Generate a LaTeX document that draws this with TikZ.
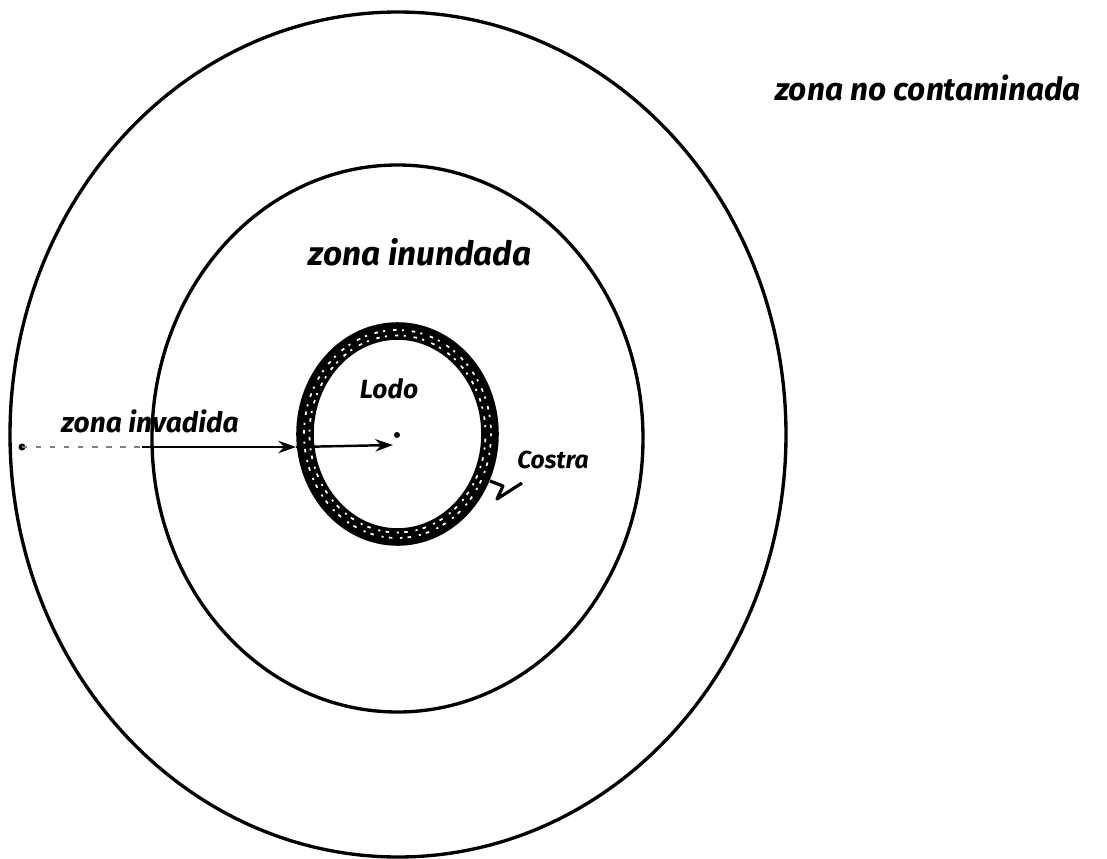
\documentclass[tikz,border=0pt]{standalone}
\usepackage{fontspec}
\newfontfamily\hand{Fira Sans}
\usetikzlibrary{positioning,arrows.meta,calc}

\begin{document}
\begin{tikzpicture}[x=0.02cm, y=-0.02cm,
      zona/.style={draw=black, line width=1.9pt},
      costra/.style={draw=black, line width=10pt},
      grano/.style={draw=white, line width=1pt, dash pattern=on 1.2pt off 4.5pt on 2pt off 3pt},
      lbl/.style={inner sep=0pt, font=\hand\bfseries\itshape\fontsize{#1}{#1}\selectfont},
      lbl/.default=18,
      flecha/.style={-{Stealth[length=10pt, width=7pt]}, line width=1.4pt},
      rastro/.style={line width=0.8pt, dash pattern=on 3pt off 5pt, gray}]
      \useasboundingbox (0,0) rectangle (1107,859);
      % zonas
      \draw[zona] (398,434.5) ellipse [x radius=388, y radius=422.5];
      \draw[zona] (397.5,438.5) ellipse [x radius=245.5, y radius=273.5];
      % costra alrededor del lodo
      \draw[costra] (397.5,434) ellipse [x radius=92.5, y radius=103];
      \draw[grano] (397.5,434) ellipse [x radius=93.5, y radius=104];
      \draw[grano, dash phase=3pt] (397.5,434) ellipse [x radius=88, y radius=98.5];
      % textos
      \node[lbl=18] (nocont) at (928,88) {zona no contaminada};
      \node[lbl=19] (inund) at (420,252) {zona inundada};
      \node[lbl=15] (lodo) at (389,389) {Lodo};
      \node[lbl=16] (invad) at (150,421) {zona invadida};
      \node[lbl=14] (costra) at (553,460) {Costra};
      % radio de invasion
      \coordinate (borde) at (22,447);
      \coordinate (corte) at (142,447);
      \coordinate (anillo) at (296,447);
      \coordinate (punta) at (393,445);
      \coordinate (centro) at (397,435);
      \fill (borde) circle [radius=3.5];
      \draw[rastro] (borde) -- (corte);
      \draw[flecha] (corte) -- (anillo);
      \draw[flecha] (anillo) -- (punta);
      \fill (centro) circle [radius=3];
      % senal de la costra
      \draw[line width=1.8pt, line join=round] (490,481) -- (503,486) -- (497,499) -- (522,483);
    \end{tikzpicture}
\end{document}
